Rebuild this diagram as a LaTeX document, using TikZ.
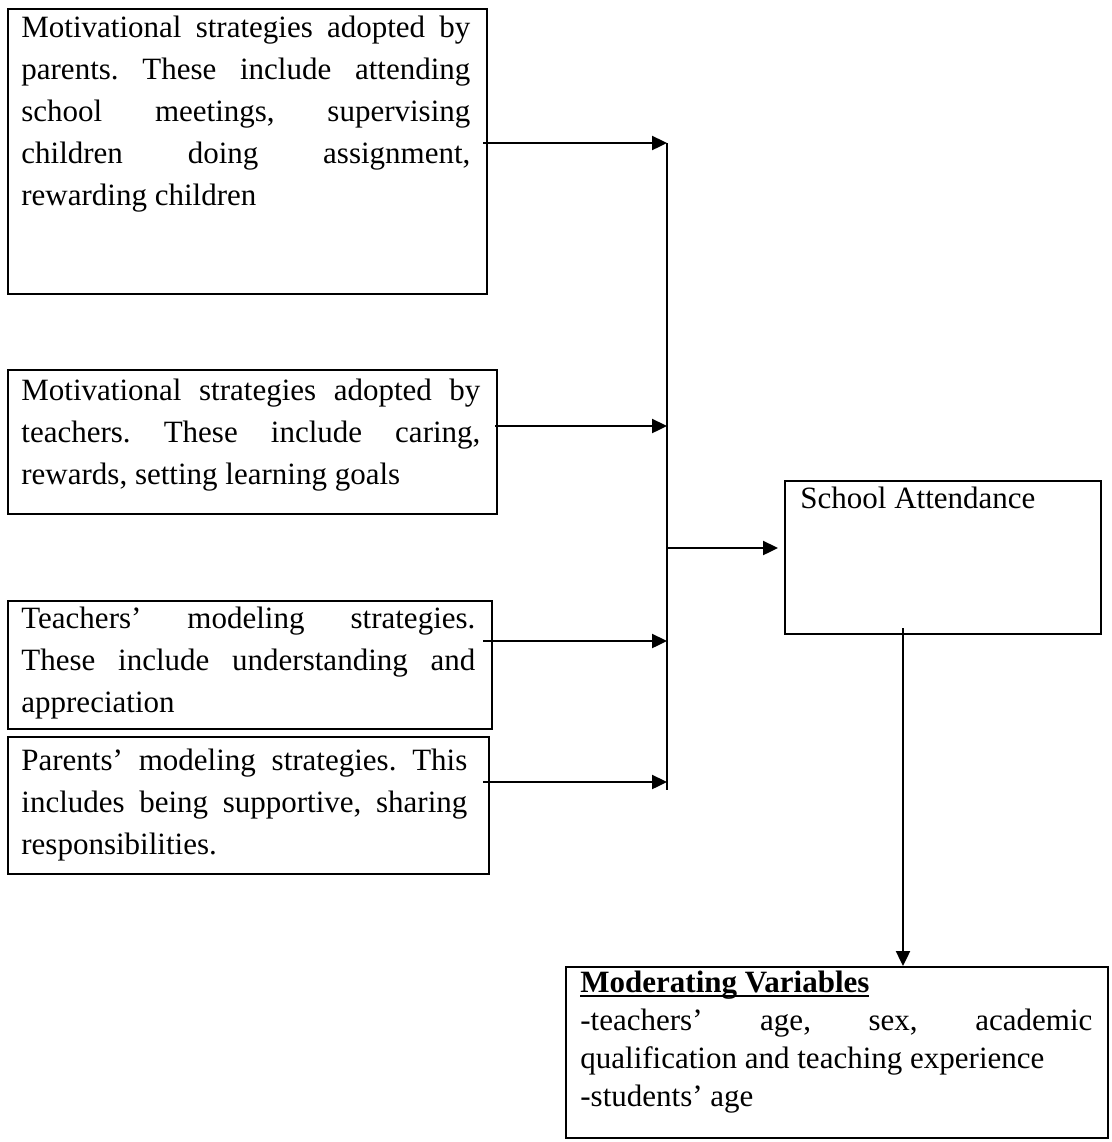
\documentclass[tikz,border=0pt]{standalone}
\usepackage{fontspec}
\setmainfont{Liberation Serif}
\usetikzlibrary{arrows.meta,calc}
\newcommand\jl[2]{\hbox to #1{#2}}
\newcommand\lines[1]{\vbox{#1}}
\newcommand\ulbar[1]{\setbox0\hbox{#1}\rlap{\rule[-2pt]{\wd0}{1.1pt}}\box0}
\frenchspacing
\hbadness=10000
\setlength\parindent{0pt}
\begin{document}
\begin{tikzpicture}[x=0.5pt,y=-0.5pt,
  box/.style={draw, line width=1.2pt, rectangle, inner sep=0pt, anchor=north west},
  txt/.style={inner sep=0pt, anchor=north west, font=\fontsize{15.5}{21}\selectfont},
  conn/.style={line width=1.2pt},
  arr/.style={conn, -{Triangle[length=7.5pt,width=7pt]}}]
\useasboundingbox (0,0) rectangle (1112,1142);

% boxes
\node[box, minimum width=239.5pt, minimum height=142.5pt] (b1) at (7,8) {};
\node[box, minimum width=244.5pt, minimum height=72pt] (b2) at (7,369) {};
\node[box, minimum width=242pt, minimum height=64pt] (b3) at (7,600) {};
\node[box, minimum width=240.5pt, minimum height=68.5pt] (b4) at (7,736) {};
\node[box, minimum width=158pt, minimum height=76.5pt] (sa) at (784,480) {};
\node[box, minimum width=271pt, minimum height=85.5pt] (mv) at (565,966) {};

% texts
\node[txt] (t1) at (21,16) {\lines{\jl{224.5pt}{Motivational strategies adopted by}\jl{224.5pt}{parents. These include attending}\jl{224.5pt}{school meetings, supervising}\jl{224.5pt}{children doing assignment,}\hbox{rewarding children}}};
\node[txt] (t2) at (21,379) {\lines{\jl{229.5pt}{Motivational strategies adopted by}\jl{229.5pt}{teachers. These include caring,}\hbox{rewards, setting learning goals}}};
\node[txt] (t3) at (21,607) {\lines{\jl{227pt}{Teachers’ modeling strategies.}\jl{227pt}{These include understanding and}\hbox{appreciation}}};
\node[txt] (t4) at (21,749) {\lines{\jl{223pt}{Parents’ modeling strategies. This}\jl{223pt}{includes being supportive, sharing}\hbox{responsibilities.}}};
\node[txt, anchor=base west] (tsa) at (800,508) {School Attendance};
\node[txt, font=\fontsize{15.5}{19}\selectfont] (tmv) at (580,971) {\lines{\hbox{\textbf{\ulbar{Moderating Variables}}}\jl{256pt}{-teachers’ age, sex, academic}\hbox{qualification and teaching experience}\hbox{-students’ age}}};

% bus
\coordinate (j1) at (667,143);
\coordinate (j2) at (667,426);
\coordinate (j3) at (667,641);
\coordinate (j4) at (667,782);
\coordinate (jb) at (667,790);
\coordinate (j5) at (667,548);
\draw[conn] (j1) -- (jb);

\draw[arr] ($(b1.east |- j1)+(-5,0)$) -- (j1);
\draw[arr] ($(b2.east |- j2)+(-3,0)$) -- (j2);
\draw[arr] ($(b3.east |- j3)+(-10,0)$) -- (j3);
\draw[arr] ($(b4.east |- j4)+(-7,0)$) -- (j4);
\draw[arr, shorten >=3pt] (j5) -- (sa.west |- j5);

\coordinate (d1) at (903,628);
\draw[arr] (d1) -- (mv.north -| d1);
\end{tikzpicture}
\end{document}
